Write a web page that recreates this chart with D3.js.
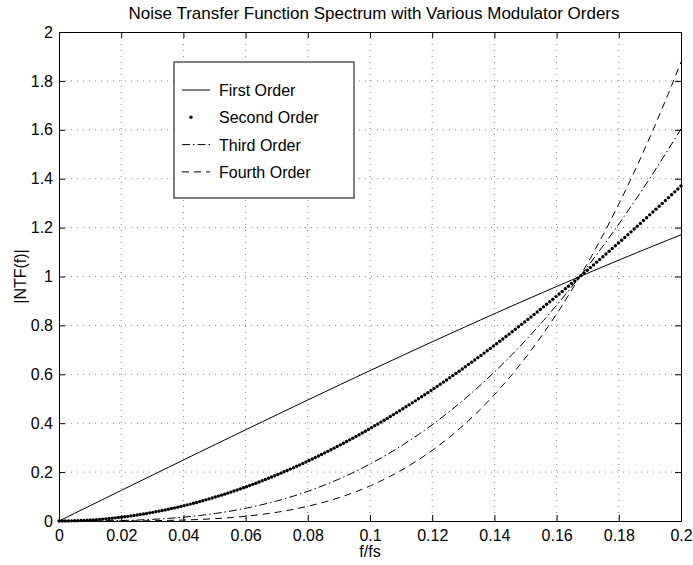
<!DOCTYPE html>
<html>
<head>
<meta charset="utf-8">
<script src="https://cdn.jsdelivr.net/npm/d3@7"></script>
<style>
    body { margin: 0; background: #fff; }
    svg text { font-family: "Liberation Sans", Arial, Helvetica, sans-serif; }
</style>
</head>
<body>
<div id="chart"></div>
<script>
// Axis ticks and labels
const xTicks = [0, 0.02, 0.04, 0.06, 0.08, 0.1, 0.12, 0.14, 0.16, 0.18, 0.2];
const xTickLabels = ['0', '0.02', '0.04', '0.06', '0.08', '0.1', '0.12', '0.14', '0.16', '0.18', '0.2'];
const yTicks = [0, 0.2, 0.4, 0.6, 0.8, 1, 1.2, 1.4, 1.6, 1.8, 2];
const yTickLabels = ['0', '0.2', '0.4', '0.6', '0.8', '1', '1.2', '1.4', '1.6', '1.8', '2'];

// Plotted f/fs positions for the line series
const fLine = [0, 0.005025, 0.01005, 0.015075, 0.020101, 0.025126, 0.030151, 0.035176, 0.040201, 0.045226, 0.050251,
    0.055276, 0.060302, 0.065327, 0.070352, 0.075377, 0.080402, 0.085427, 0.090452, 0.095477, 0.100503,
    0.105528, 0.110553, 0.115578, 0.120603, 0.125628, 0.130653, 0.135678, 0.140704, 0.145729, 0.150754,
    0.155779, 0.160804, 0.165829, 0.170854, 0.175879, 0.180905, 0.18593, 0.190955, 0.19598, 0.2];

const firstOrder = [0, 0.0314, 0.0628, 0.0942, 0.1256, 0.1569, 0.1882, 0.2195, 0.2507, 0.2818, 0.3129,
    0.3439, 0.3748, 0.4056, 0.4363, 0.4669, 0.4974, 0.5277, 0.558, 0.5881, 0.618,
    0.6478, 0.6775, 0.707, 0.7363, 0.7654, 0.7943, 0.823, 0.8516, 0.8799, 0.908,
    0.9359, 0.9635, 0.9909, 1.0181, 1.045, 1.0717, 1.098, 1.1242, 1.15, 1.1705];

const thirdOrder = [0, 0.00003, 0.00025, 0.00084, 0.00198, 0.00387, 0.00666, 0.01058, 0.01574, 0.02237, 0.03063,
    0.04065, 0.05262, 0.06672, 0.08303, 0.10178, 0.12306, 0.14696, 0.17376, 0.20336, 0.23608,
    0.27188, 0.31097, 0.35336, 0.39915, 0.44837, 0.50112, 0.5575, 0.61758, 0.68122, 0.74865,
    0.81966, 0.89442, 0.97297, 1.05516, 1.14114, 1.23074, 1.32386, 1.42065, 1.52088, 1.6036];

const fourthOrder = [0, 0.000001, 0.0000156, 0.0000789, 0.000249, 0.000609, 0.001253, 0.002323, 0.003944, 0.006304, 0.009584,
    0.013971, 0.019712, 0.02706, 0.036214, 0.047524, 0.061207, 0.077562, 0.09697, 0.119578, 0.145924,
    0.176148, 0.210681, 0.2498, 0.293872, 0.343162, 0.398035, 0.458871, 0.525915, 0.599386, 0.6798,
    0.767026, 0.861741, 0.964128, 1.074125, 1.192464, 1.318823, 1.453712, 1.596938, 1.749006, 1.877];

// Second order is plotted with point markers on a finer grid
const fDots = [0, 0.00101, 0.00201, 0.00302, 0.00402, 0.00503, 0.00603, 0.00704, 0.00804, 0.00905,
    0.01005, 0.01106, 0.01206, 0.01307, 0.01407, 0.01508, 0.01608, 0.01709, 0.01809, 0.0191,
    0.0201, 0.02111, 0.02211, 0.02312, 0.02412, 0.02513, 0.02613, 0.02714, 0.02814, 0.02915,
    0.03015, 0.03116, 0.03216, 0.03317, 0.03417, 0.03518, 0.03618, 0.03719, 0.03819, 0.0392,
    0.0402, 0.04121, 0.04221, 0.04322, 0.04422, 0.04523, 0.04623, 0.04724, 0.04824, 0.04925,
    0.05025, 0.05126, 0.05226, 0.05327, 0.05427, 0.05528, 0.05628, 0.05729, 0.05829, 0.0593,
    0.0603, 0.06131, 0.06231, 0.06332, 0.06432, 0.06533, 0.06633, 0.06734, 0.06834, 0.06935,
    0.07035, 0.07136, 0.07236, 0.07337, 0.07437, 0.07538, 0.07638, 0.07739, 0.07839, 0.0794,
    0.0804, 0.08141, 0.08241, 0.08342, 0.08442, 0.08543, 0.08643, 0.08744, 0.08844, 0.08945,
    0.09045, 0.09146, 0.09246, 0.09347, 0.09447, 0.09548, 0.09648, 0.09749, 0.09849, 0.0995,
    0.1005, 0.10151, 0.10251, 0.10352, 0.10452, 0.10553, 0.10653, 0.10754, 0.10854, 0.10955,
    0.11055, 0.11156, 0.11256, 0.11357, 0.11457, 0.11558, 0.11658, 0.11759, 0.11859, 0.1196,
    0.1206, 0.12161, 0.12261, 0.12362, 0.12462, 0.12563, 0.12663, 0.12764, 0.12864, 0.12965,
    0.13065, 0.13166, 0.13266, 0.13367, 0.13467, 0.13568, 0.13668, 0.13769, 0.13869, 0.1397,
    0.1407, 0.14171, 0.14271, 0.14372, 0.14472, 0.14573, 0.14673, 0.14774, 0.14874, 0.14975,
    0.15075, 0.15176, 0.15276, 0.15377, 0.15477, 0.15578, 0.15678, 0.15779, 0.15879, 0.1598,
    0.1608, 0.16181, 0.16281, 0.16382, 0.16482, 0.16583, 0.16683, 0.16784, 0.16885, 0.16985,
    0.17086, 0.17186, 0.17287, 0.17387, 0.17488, 0.17588, 0.17689, 0.17789, 0.1789, 0.1799,
    0.18091, 0.18191, 0.18292, 0.18392, 0.18493, 0.18593, 0.18694, 0.18794, 0.18895, 0.18995,
    0.19096, 0.19196, 0.19297, 0.19397, 0.19498, 0.19598, 0.19699, 0.19799, 0.199, 0.2];

const secondOrder = [0, 0.00004, 0.00016, 0.00036, 0.00063, 0.00099, 0.00142, 0.00193, 0.00253, 0.0032,
    0.00395, 0.00478, 0.00568, 0.00667, 0.00774, 0.00888, 0.01011, 0.01141, 0.01279, 0.01425,
    0.01579, 0.01741, 0.01911, 0.02088, 0.02274, 0.02467, 0.02669, 0.02878, 0.03095, 0.0332,
    0.0354, 0.0378, 0.0403, 0.0428, 0.0455, 0.0482, 0.0509, 0.0538, 0.0567, 0.0597,
    0.0628, 0.066, 0.0692, 0.0726, 0.0759, 0.0794, 0.083, 0.0866, 0.0903, 0.094,
    0.0979, 0.1018, 0.1058, 0.1099, 0.114, 0.1182, 0.1225, 0.1269, 0.1313, 0.1358,
    0.1404, 0.1451, 0.1498, 0.1546, 0.1595, 0.1645, 0.1695, 0.1746, 0.1798, 0.185,
    0.1903, 0.1957, 0.2012, 0.2067, 0.2123, 0.218, 0.2237, 0.2295, 0.2354, 0.2413,
    0.2474, 0.2535, 0.2596, 0.2658, 0.2721, 0.2785, 0.2849, 0.2914, 0.298, 0.3046,
    0.3114, 0.3181, 0.325, 0.3318, 0.3388, 0.3458, 0.3529, 0.3601, 0.3673, 0.3746,
    0.382, 0.3894, 0.3969, 0.4044, 0.412, 0.4197, 0.4274, 0.4352, 0.4431, 0.451,
    0.459, 0.467, 0.4751, 0.4833, 0.4915, 0.4998, 0.5081, 0.5165, 0.525, 0.5335,
    0.5421, 0.5507, 0.5594, 0.5681, 0.5769, 0.5858, 0.5947, 0.6037, 0.6127, 0.6218,
    0.6309, 0.6401, 0.6493, 0.6586, 0.668, 0.6774, 0.6868, 0.6963, 0.7059, 0.7155,
    0.7252, 0.7349, 0.7446, 0.7544, 0.7643, 0.7742, 0.7841, 0.7942, 0.8042, 0.8143,
    0.8245, 0.8346, 0.8448, 0.8551, 0.8655, 0.8758, 0.8862, 0.8967, 0.9072, 0.9177,
    0.9283, 0.939, 0.9496, 0.9604, 0.9711, 0.9819, 0.9927, 1.0035, 1.0145, 1.0254,
    1.0364, 1.0475, 1.0586, 1.0697, 1.0808, 1.092, 1.1032, 1.1145, 1.1257, 1.1371,
    1.1484, 1.1598, 1.1712, 1.1827, 1.1942, 1.2057, 1.2172, 1.2288, 1.2404, 1.2521,
    1.2637, 1.2754, 1.2872, 1.2989, 1.3107, 1.3225, 1.3343, 1.3462, 1.3581, 1.37];

const legendLabels = ['First Order', 'Second Order', 'Third Order', 'Fourth Order'];

// Layout
const totalWidth = 693, totalHeight = 565;
const margin = { top: 32, right: 12, bottom: 44, left: 59 };
const width = totalWidth - margin.left - margin.right;
const height = totalHeight - margin.top - margin.bottom;
const fontSize = 16;

const svg = d3.select('#chart').append('svg')
    .attr('width', totalWidth)
    .attr('height', totalHeight);

const g = svg.append('g')
    .attr('transform', `translate(${margin.left},${margin.top})`);

const x = d3.scaleLinear().domain([0, 0.2]).range([0, width]);
const y = d3.scaleLinear().domain([0, 2]).range([height, 0]);

// Dotted grid lines
const grid = g.append('g').attr('class', 'grid');
grid.selectAll('.vgrid')
    .data(xTicks.slice(1, -1))
    .enter().append('line')
    .attr('x1', d => x(d)).attr('x2', d => x(d))
    .attr('y1', 0).attr('y2', height)
    .attr('stroke', '#888')
    .attr('stroke-width', 1)
    .attr('stroke-dasharray', '1,5');
grid.selectAll('.hgrid')
    .data(yTicks.slice(1, -1))
    .enter().append('line')
    .attr('x1', 0).attr('x2', width)
    .attr('y1', d => y(d)).attr('y2', d => y(d))
    .attr('stroke', '#888')
    .attr('stroke-width', 1)
    .attr('stroke-dasharray', '1,5');

// Axes (ticks pointing inward, box on all four sides)
function styleAxis(sel) {
    sel.select('.domain').attr('stroke', '#000').attr('stroke-width', 1);
    sel.selectAll('.tick line').attr('stroke', '#000');
    sel.selectAll('text')
        .attr('fill', '#000')
        .style('font-size', fontSize + 'px');
}

g.append('g')
    .attr('transform', `translate(0,${height})`)
    .call(d3.axisBottom(x)
        .tickValues(xTicks)
        .tickFormat((d, i) => xTickLabels[i])
        .tickSizeInner(-6)
        .tickSizeOuter(0)
        .tickPadding(9))
    .call(styleAxis);

g.append('g')
    .call(d3.axisLeft(y)
        .tickValues(yTicks)
        .tickFormat((d, i) => yTickLabels[i])
        .tickSizeInner(-6)
        .tickSizeOuter(0)
        .tickPadding(6))
    .call(styleAxis);

g.append('g')
    .call(d3.axisTop(x).tickValues(xTicks).tickFormat('').tickSizeInner(-6).tickSizeOuter(0))
    .call(styleAxis);

g.append('g')
    .attr('transform', `translate(${width},0)`)
    .call(d3.axisRight(y).tickValues(yTicks).tickFormat('').tickSizeInner(-6).tickSizeOuter(0))
    .call(styleAxis);

// Series
const line = d3.line()
    .x((d, i) => x(fLine[i]))
    .y(d => y(d));

const lineSeries = [
    { values: firstOrder, dash: null },
    { values: thirdOrder, dash: '8,3,1.5,3' },
    { values: fourthOrder, dash: '7,5' }
];

const plot = g.append('g').attr('class', 'series');

lineSeries.forEach(s => {
    plot.append('path')
        .datum(s.values)
        .attr('d', line)
        .attr('fill', 'none')
        .attr('stroke', '#000')
        .attr('stroke-width', 1)
        .attr('stroke-dasharray', s.dash);
});

plot.selectAll('.dot')
    .data(secondOrder)
    .enter().append('circle')
    .attr('cx', (d, i) => x(fDots[i]))
    .attr('cy', d => y(d))
    .attr('r', 1.7)
    .attr('fill', '#000');

// Title and axis labels
svg.append('text')
    .attr('x', margin.left + width / 2 + 4)
    .attr('y', 19)
    .attr('text-anchor', 'middle')
    .style('font-size', '17px')
    .text('Noise Transfer Function Spectrum with Various Modulator Orders');

svg.append('text')
    .attr('x', margin.left + width / 2)
    .attr('y', 557)
    .attr('text-anchor', 'middle')
    .style('font-size', fontSize + 'px')
    .text('f/fs');

svg.append('text')
    .attr('transform', `translate(26,${margin.top + height / 2}) rotate(-90)`)
    .attr('text-anchor', 'middle')
    .style('font-size', fontSize + 'px')
    .text('|NTF(f)|');

// Legend
const legend = svg.append('g')
    .attr('class', 'chart-legend')
    .attr('transform', 'translate(174,62)');

legend.append('rect')
    .attr('width', 180)
    .attr('height', 136)
    .attr('fill', '#fff')
    .attr('stroke', '#000')
    .attr('stroke-width', 1);

const legendDash = [null, 'dot', '8,3,1.5,3', '7,5'];

legendLabels.forEach((label, i) => {
    const row = legend.append('g')
        .attr('transform', `translate(0, ${28 + i * 27.3})`);

    if (legendDash[i] === 'dot') {
        row.append('circle')
            .attr('cx', 17)
            .attr('cy', 0)
            .attr('r', 1.7)
            .attr('fill', '#000');
    } else {
        row.append('line')
            .attr('x1', 8).attr('x2', 36)
            .attr('y1', 0).attr('y2', 0)
            .attr('stroke', '#000')
            .attr('stroke-width', 1)
            .attr('stroke-dasharray', legendDash[i]);
    }

    row.append('text')
        .attr('x', 45)
        .attr('y', 6)
        .style('font-size', fontSize + 'px')
        .attr('fill', '#000')
        .text(label);
});
</script>
</body>
</html>
